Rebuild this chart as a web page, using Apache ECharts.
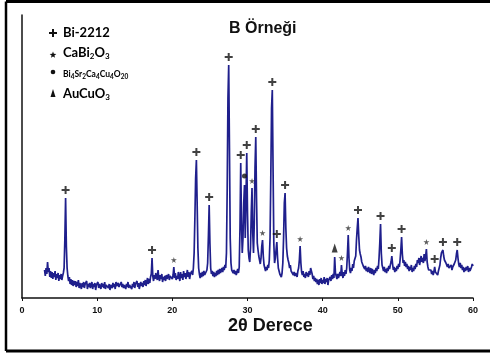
<!DOCTYPE html>
<html>
<head>
<meta charset="utf-8">
<script src="https://cdn.jsdelivr.net/npm/echarts@6/dist/echarts.min.js"></script>
<style>
  html, body { margin: 0; padding: 0; background: #fff; }
  #chart { width: 490px; height: 358px; }
</style>
</head>
<body>
<div id="chart"></div>
<script>
// XRD scan of sample B: 2θ from 3.0° to 60.0°, step 0.1°
const startAngle = 3.0;
const stepAngle = 0.1;
const counts = [
  /* 3 */ 28, 22, 30, 24, 36, 26, 30, 21, 27, 20,
  /* 4 */ 26, 19, 25, 21, 27, 18, 24, 20, 25, 17,
  /* 5 */ 23, 19, 24, 18, 22, 25, 30, 58, 100, 52,
  /* 6 */ 30, 22, 17, 21, 14, 19, 13, 18, 12, 17,
  /* 7 */ 13, 17, 11, 16, 12, 18, 10, 15, 13, 9,
  /* 8 */ 15, 11, 16, 10, 14, 12, 17, 9, 14, 11,
  /* 9 */ 15, 10, 13, 16, 9, 14, 11, 15, 8, 13,
  /*10 */ 11, 16, 10, 14, 12, 9, 15, 11, 14, 10,
  /*11 */ 16, 9, 13, 11, 15, 10, 14, 8, 13, 12,
  /*12 */ 10, 15, 11, 14, 9, 16, 12, 10, 15, 11,
  /*13 */ 13, 9, 16, 11, 14, 10, 13, 15, 9, 14,
  /*14 */ 11, 16, 10, 13, 12, 15, 9, 14, 11, 16,
  /*15 */ 10, 14, 12, 17, 11, 15, 9, 13, 16, 12,
  /*16 */ 15, 11, 17, 13, 18, 12, 16, 20, 14, 19,
  /*17 */ 15, 21, 24, 40, 22, 17, 23, 19, 25, 21,
  /*18 */ 18, 28, 20, 17, 23, 19, 24, 16, 21, 18,
  /*19 */ 22, 17, 23, 19, 21, 24, 18, 22, 20, 24,
  /*20 */ 19, 23, 31, 20, 25, 18, 22, 19, 26, 21,
  /*21 */ 17, 26, 20, 24, 18, 27, 21, 25, 19, 23,
  /*22 */ 28, 21, 26, 19, 24, 22, 27, 23, 30, 45,
  /*23 */ 80, 120, 138, 95, 50, 30, 24, 20, 25, 21,
  /*24 */ 26, 22, 27, 23, 25, 21, 28, 35, 62, 93,
  /*25 */ 55, 30, 24, 27, 22, 26, 21, 25, 22, 27,
  /*26 */ 23, 28, 24, 29, 25, 27, 30, 26, 31, 28,
  /*27 */ 33, 30, 45, 110, 200, 233, 150, 60, 35, 28,
  /*28 */ 30, 25, 28, 24, 27, 23, 26, 29, 25, 31,
  /*29 */ 70, 135, 75, 45, 60, 95, 113, 60, 100, 145,
  /*30 */ 85, 48, 40, 36, 50, 85, 110, 65, 45, 75,
  /*31 */ 130, 161, 100, 55, 48, 42, 38, 34, 40, 52,
  /*32 */ 58, 42, 33, 30, 27, 31, 28, 33, 30, 38,
  /*33 */ 60, 120, 190, 208, 130, 55, 35, 40, 48, 56,
  /*34 */ 40, 30, 27, 24, 22, 21, 25, 35, 60, 95,
  /*35 */ 105, 70, 50, 42, 38, 35, 30, 33, 27, 25,
  /*36 */ 28, 23, 26, 22, 25, 24, 21, 27, 30, 38,
  /*37 */ 52, 35, 26, 23, 27, 21, 24, 20, 26, 22,
  /*38 */ 25, 21, 27, 23, 30, 32, 24, 19, 22, 17,
  /*39 */ 20, 16, 19, 14, 18, 13, 19, 15, 20, 14,
  /*40 */ 18, 15, 21, 14, 19, 16, 20, 13, 18, 17,
  /*41 */ 21, 17, 23, 19, 24, 20, 41, 25, 22, 19,
  /*42 */ 24, 20, 23, 26, 22, 33, 24, 20, 26, 22,
  /*43 */ 28, 24, 30, 45, 63, 40, 28, 25, 30, 27,
  /*44 */ 34, 30, 37, 35, 42, 58, 70, 80, 62, 48,
  /*45 */ 44, 41, 36, 38, 32, 34, 29, 32, 27, 30,
  /*46 */ 26, 31, 28, 25, 30, 24, 29, 26, 23, 28,
  /*47 */ 25, 30, 27, 32, 29, 40, 55, 74, 45, 33,
  /*48 */ 30, 27, 31, 26, 29, 25, 30, 27, 32, 29,
  /*49 */ 33, 36, 42, 34, 28, 31, 26, 30, 27, 32,
  /*50 */ 29, 34, 31, 38, 48, 61, 44, 35, 38, 32,
  /*51 */ 36, 31, 34, 29, 32, 27, 31, 28, 33, 26,
  /*52 */ 30, 27, 32, 29, 34, 31, 38, 35, 40, 33,
  /*53 */ 38, 42, 36, 40, 35, 44, 37, 42, 49, 36,
  /*54 */ 31, 28, 30, 26, 28, 24, 27, 23, 26, 31,
  /*55 */ 26, 24, 28, 23, 27, 25, 33, 40, 45, 44,
  /*56 */ 48, 42, 38, 40, 35, 37, 31, 34, 30, 32,
  /*57 */ 29, 33, 28, 31, 30, 34, 32, 38, 44, 48,
  /*58 */ 40, 34, 31, 35, 30, 33, 28, 31, 26, 30,
  /*59 */ 27, 31, 28, 32, 26, 30, 27, 29, 31, 34,
  /*60 */ 32
];

// Indexed reflections (2θ) for each identified phase
const bi2212Peaks = [5.8, 17.3, 23.2, 24.9, 27.5, 29.1, 29.9, 31.1, 33.3, 33.9, 35.0, 44.7, 47.7, 49.2, 50.5, 54.9, 56.0, 57.9];
const caBi2O3Peaks = [20.2, 30.6, 32.0, 37.0, 42.5, 43.4, 53.8];
const bi4Sr2Ca4Cu4O20Peaks = [29.6];
const auCuO3Peaks = [41.6];

const xTicks = [0, 10, 20, 30, 40, 50, 60];

const scan = counts.map((c, i) => [+(startAngle + i * stepAngle).toFixed(1), c]);
const countAt = a => counts[Math.round((a - startAngle) / stepAngle)];
const markers = peaks => peaks.map(a => [a, countAt(a)]);

const ink = '#111';
const plusPath = 'path://M3,0 L5,0 L5,3 L8,3 L8,5 L5,5 L5,8 L3,8 L3,5 L0,5 L0,3 L3,3 Z';
const starPath = 'path://M50,0 L61,35 L98,35 L68,57 L79,91 L50,70 L21,91 L32,57 L2,35 L39,35 Z';

// small polygon helpers for the phase key
const plusShape = (cx, cy, r, t) => [
  [cx - t, cy - r], [cx + t, cy - r], [cx + t, cy - t], [cx + r, cy - t], [cx + r, cy + t],
  [cx + t, cy + t], [cx + t, cy + r], [cx - t, cy + r], [cx - t, cy + t], [cx - r, cy + t],
  [cx - r, cy - t], [cx - t, cy - t]
];
const starShape = (cx, cy, R) => {
  const pts = [];
  for (let k = 0; k < 10; k++) {
    const rad = k % 2 === 0 ? R : R * 0.42;
    const ang = -Math.PI / 2 + k * Math.PI / 5;
    pts.push([cx + rad * Math.cos(ang), cy + rad * Math.sin(ang)]);
  }
  return pts;
};

const chart = echarts.init(document.getElementById('chart'), null, { renderer: 'canvas' });

const legendFont = 'Lato, "Open Sans", sans-serif';
const legendRich = {
  b: { fontFamily: legendFont, fontWeight: 'bold', fontSize: 13, color: ink },
  s: { fontFamily: legendFont, fontWeight: 'bold', fontSize: 8, color: ink, padding: [7, 0, 0, 0] },
  m: { fontFamily: legendFont, fontWeight: 'bold', fontSize: 8.5, color: ink },
  ms: { fontFamily: legendFont, fontWeight: 'bold', fontSize: 6.5, color: ink, padding: [5, 0, 0, 0] }
};

chart.setOption({
  animation: false,
  backgroundColor: '#fff',
  grid: { left: 22, right: 17, top: 15, bottom: 60 },
  xAxis: {
    type: 'value',
    min: 0, max: 60, interval: 10,
    axisLine: { lineStyle: { color: ink, width: 1.5 } },
    axisTick: { show: true, length: 3, lineStyle: { color: ink } },
    splitLine: { show: false },
    axisLabel: {
      color: ink, fontFamily: '"Liberation Sans", Arial, sans-serif',
      fontWeight: 'bold', fontSize: 9, margin: 8,
      formatter: v => xTicks.includes(v) ? String(v) : ''
    }
  },
  yAxis: {
    type: 'value',
    min: 0, max: 283,
    axisLine: { show: true, lineStyle: { color: ink, width: 1.5 } },
    axisTick: { show: false },
    axisLabel: { show: false },
    splitLine: { show: false }
  },
  series: [
    {
      name: 'B',
      type: 'line',
      data: scan,
      showSymbol: false,
      symbol: 'none',
      lineStyle: { color: '#1f1f8c', width: 1.7 },
      z: 2
    },
    {
      name: 'Bi-2212',
      type: 'scatter',
      data: markers(bi2212Peaks),
      symbol: plusPath,
      symbolSize: 8,
      symbolOffset: [0, -8],
      itemStyle: { color: ink },
      z: 3
    },
    {
      name: 'CaBi2O3',
      type: 'scatter',
      data: markers(caBi2O3Peaks),
      symbol: starPath,
      symbolSize: 6,
      symbolOffset: [0, -7],
      itemStyle: { color: '#333' },
      z: 3
    },
    {
      name: 'Bi4Sr2Ca4Cu4O20',
      type: 'scatter',
      data: markers(bi4Sr2Ca4Cu4O20Peaks),
      symbol: 'circle',
      symbolSize: 5,
      symbolOffset: [0, -9],
      itemStyle: { color: ink },
      z: 3
    },
    {
      name: 'AuCuO3',
      type: 'scatter',
      data: markers(auCuO3Peaks),
      symbol: 'triangle',
      symbolSize: [6, 9],
      symbolOffset: [0, -9],
      itemStyle: { color: ink },
      z: 3
    }
  ],
  graphic: [
    // frame
    { type: 'line', shape: { x1: 6, y1: 1.5, x2: 490, y2: 1.5 }, style: { stroke: '#000', lineWidth: 3 } },
    { type: 'line', shape: { x1: 6, y1: 1.5, x2: 6, y2: 351 }, style: { stroke: '#000', lineWidth: 2.5 } },
    { type: 'line', shape: { x1: 6, y1: 351, x2: 490, y2: 351 }, style: { stroke: '#000', lineWidth: 3 } },
    // title
    {
      type: 'text', x: 229, y: 21,
      style: { text: 'B Örneği', font: 'bold 16px "Liberation Sans", Arial, sans-serif', fill: ink }
    },
    // x-axis name
    {
      type: 'text', x: 228, y: 317,
      style: { text: '2θ Derece', font: 'bold 18px "Liberation Sans", Arial, sans-serif', fill: ink }
    },
    // phase key symbols
    { type: 'polygon', shape: { points: plusShape(53, 33, 4, 1) }, style: { fill: ink } },
    { type: 'polygon', shape: { points: starShape(53, 55, 3.5) }, style: { fill: ink } },
    { type: 'circle', shape: { cx: 53, cy: 72, r: 2.3 }, style: { fill: ink } },
    { type: 'polygon', shape: { points: [[53, 89], [50.5, 97], [55.5, 97]] }, style: { fill: ink } },
    // phase key labels
    {
      type: 'text', x: 63, y: 26,
      style: { text: '{b|Bi-2212}', rich: legendRich }
    },
    {
      type: 'text', x: 63, y: 45,
      style: { text: '{b|CaBi}{s|2}{b|O}{s|3}', rich: legendRich }
    },
    {
      type: 'text', x: 63, y: 68,
      style: { text: '{m|Bi}{ms|4}{m|Sr}{ms|2}{m|Ca}{ms|4}{m|Cu}{ms|4}{m|O}{ms|20}', rich: legendRich }
    },
    {
      type: 'text', x: 63, y: 86,
      style: { text: '{b|AuCuO}{s|3}', rich: legendRich }
    }
  ]
});
</script>
</body>
</html>
